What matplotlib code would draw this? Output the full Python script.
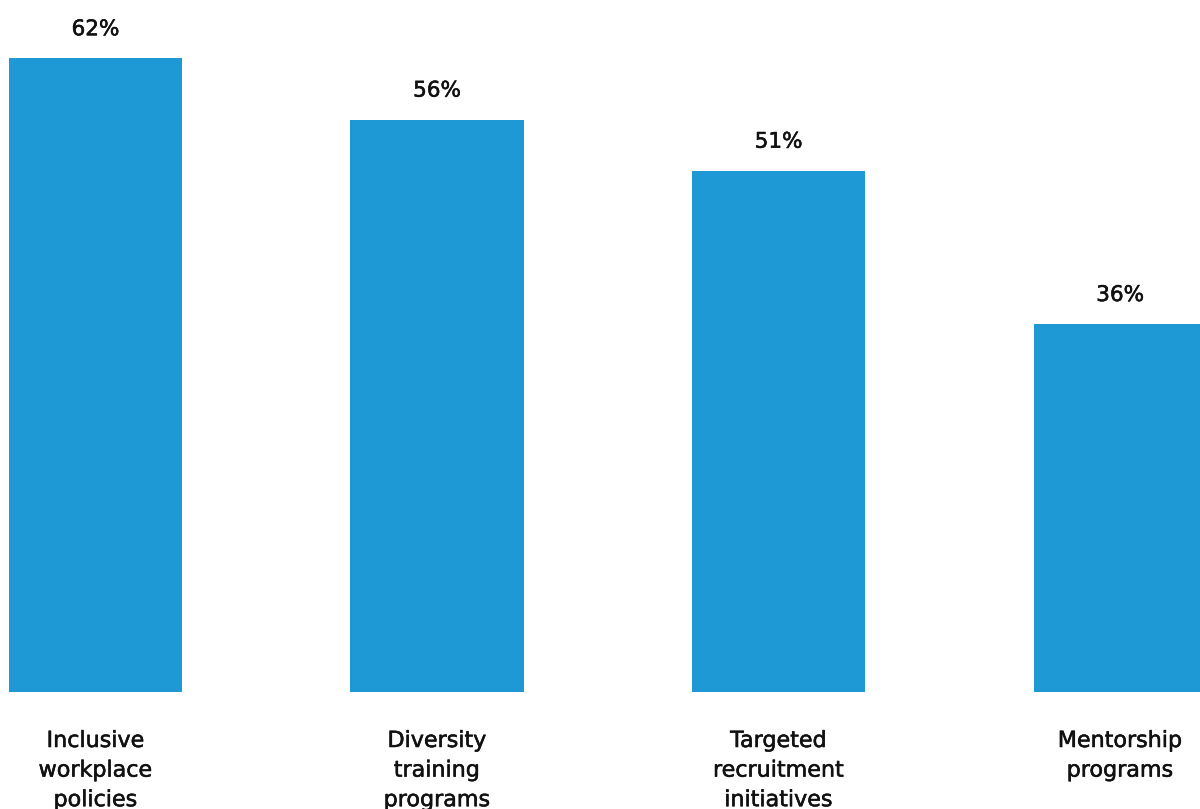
import matplotlib.pyplot as plt
import matplotlib.patheffects as pe

categories = ['Inclusive\nworkplace\npolicies', 'Diversity\ntraining\nprograms',
              'Targeted\nrecruitment\ninitiatives', 'Mentorship\nprograms']
values = [62, 56, 51, 36]

plt.rcParams['font.family'] = ['DejaVu Sans']

fig = plt.figure(figsize=(12, 8.09), dpi=100)
# axes covers the plotting band; baseline sits at y=692 px
ax = fig.add_axes([0, (809 - 692) / 809, 1, 692 / 809])

x = list(range(len(values)))
ax.bar(x, values, width=0.507, color='#1E99D6')

ax.set_xlim(-0.2797, 3.234)
ax.set_ylim(0, 67.7)
ax.axis('off')

# slightly heavier strokes than DejaVu regular
thick = [pe.withStroke(linewidth=0.4, foreground='#111111')]

for xi, v in zip(x, values):
    ax.annotate(f'{v}%', (xi, v), xytext=(0, 29), textcoords='offset pixels',
                ha='center', va='center', fontsize=15.5, color='#111111',
                path_effects=thick)

for xi, lab in zip(x, categories):
    ax.annotate(lab, (xi, 0), xytext=(0, -39), textcoords='offset pixels',
                ha='center', va='top', fontsize=16, color='#111111',
                linespacing=1.6, annotation_clip=False, path_effects=thick)

fig.savefig('out.png', dpi=100)
